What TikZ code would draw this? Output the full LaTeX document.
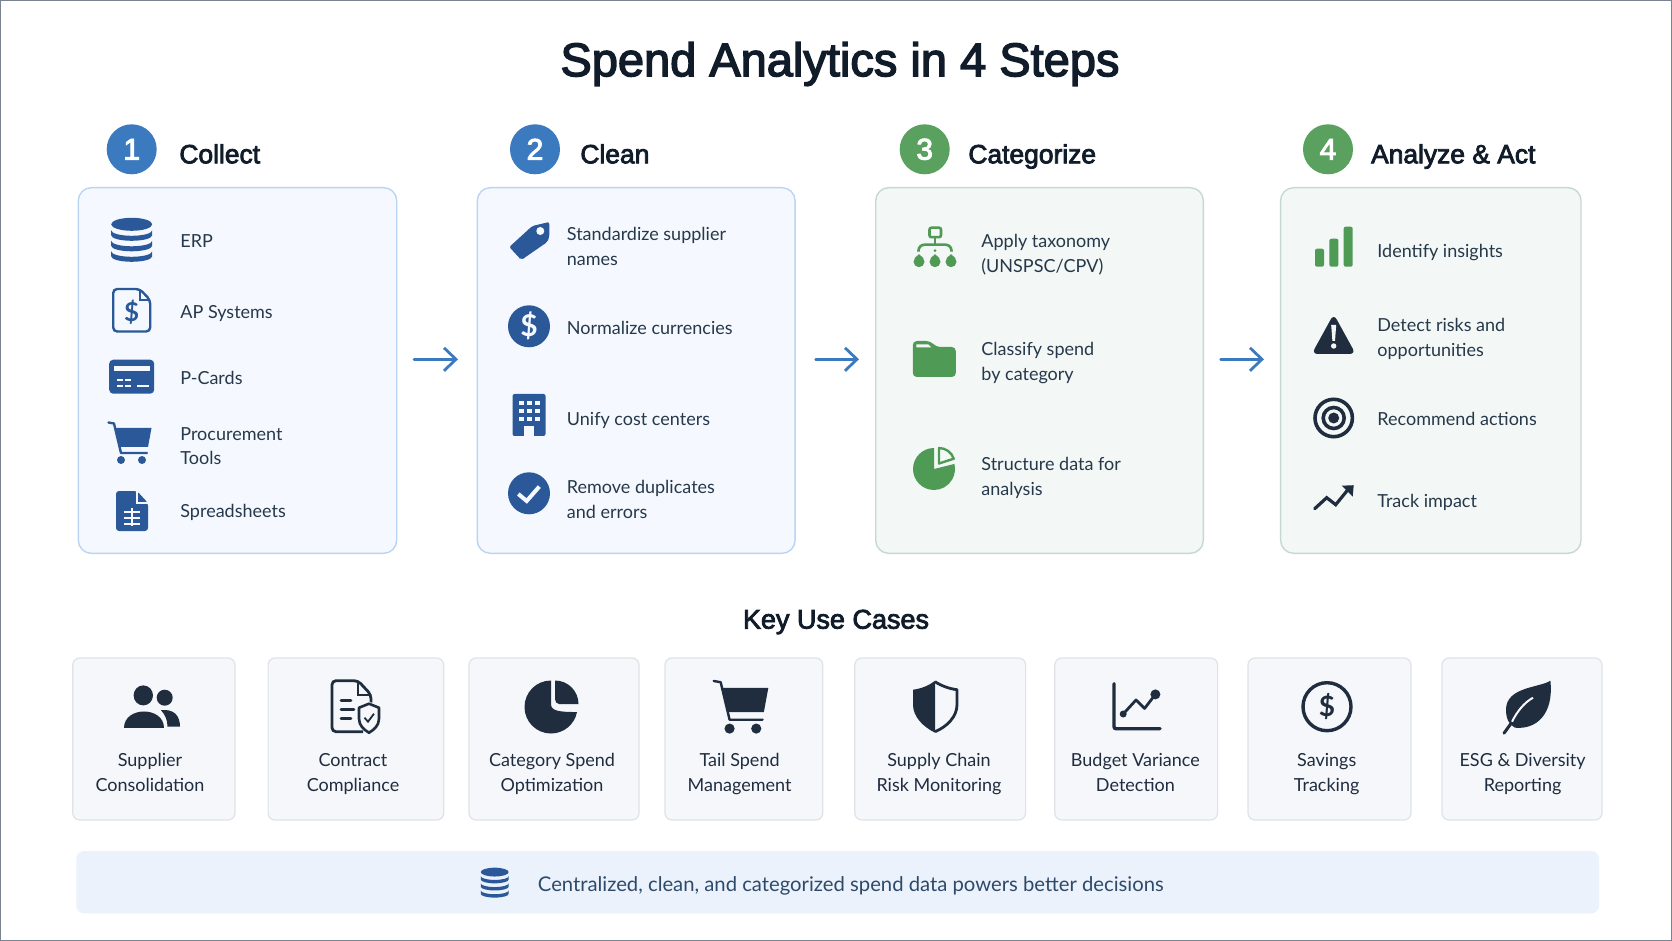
\documentclass[tikz,border=0pt]{standalone}
\usepackage{fontspec}
\usepackage{xcolor}
\usetikzlibrary{arrows.meta}
\setmainfont{Lato}
\newfontfamily\headfont[FakeBold=3]{Liberation Sans}

\definecolor{inkdark}{HTML}{111C2B}
\definecolor{inkbody}{HTML}{26384A}
\definecolor{inkbanner}{HTML}{2E4A6B}
\definecolor{navyicon}{HTML}{2B5898}
\definecolor{slateicon}{HTML}{1F2D3F}
\definecolor{greenicon}{HTML}{4F9A55}
\definecolor{badgeblue}{HTML}{3B7ABF}
\definecolor{badgegreen}{HTML}{5AA05F}
\definecolor{arrowblue}{HTML}{3B7ABF}
\definecolor{bluefill}{HTML}{F5F9FF}
\definecolor{blueedge}{HTML}{BAD4F3}
\definecolor{greenfill}{HTML}{F3F8F6}
\definecolor{greenedge}{HTML}{C6D9CF}
\definecolor{usefill}{HTML}{F5F7FB}
\definecolor{useedge}{HTML}{DFE3E8}
\definecolor{bannerfill}{HTML}{EBF2FC}
\definecolor{frameline}{HTML}{7A8490}

\tikzset{
  badge/.style={circle,minimum size=25pt,inner sep=0pt,text=white,font=\headfont\fontsize{15}{15}\selectfont},
  headtext/.style={anchor=base west,inner sep=0pt,text=inkdark,font=\headfont\fontsize{13.2}{13.2}\selectfont},
  stepcard/.style={draw,line width=.7pt,rounded corners=6.5pt,minimum height=182.8pt},
  bluecard/.style={stepcard,draw=blueedge,fill=bluefill},
  greencard/.style={stepcard,draw=greenedge,fill=greenfill},
  steptext/.style={anchor=west,inner sep=0pt,align=left,text=inkbody,font=\fontsize{9}{12.25}\selectfont},
  stepline/.style={anchor=base west,inner sep=0pt,text=inkbody,font=\fontsize{9}{12.25}\selectfont},
  usecard/.style={draw=useedge,fill=usefill,line width=.6pt,rounded corners=3.5pt,minimum height=81pt},
  usetext/.style={inner sep=0pt,align=center,text=slateicon,font=\fontsize{9}{12.25}\selectfont},
  flowarrow/.style={draw=arrowblue,line width=1.4pt,line cap=round,-{Straight Barb[length=6pt,width=11.5pt]}},
  % icons, drawn round the origin in pixels of the reference
  dbicon/.pic={
    \fill[#1] (0,-15) ellipse [x radius=20.5,y radius=6.5];
    \foreach \y in {-9,1.5,12}
      \fill[#1] (-20.5,\y) arc [start angle=180,end angle=0,x radius=20.5,y radius=5.5] -- ++(0,5) arc [start angle=0,end angle=180,x radius=20.5,y radius=5.5] -- cycle;
  },
  docicon/.pic={
    \draw[#1,line width=1.2pt,rounded corners=2pt] (-18.5,-21) -- (8,-21) -- (18.5,-10) -- (18.5,21.5) -- (-18.5,21.5) -- cycle;
    \draw[#1,line width=1pt] (8,-20) -- (8,-10) -- (18,-10);
    \node[text=#1,inner sep=0pt,font=\bfseries\fontsize{13}{13}\selectfont] (-sign) at (0,2) {\$};
  },
  cardicon/.pic={
    \fill[#1,rounded corners=2pt] (-22.5,-17) rectangle (22.5,17);
    \fill[bluefill] (-18,-11) rectangle (18,-5.5);
    \foreach \a/\b in {-15/-9,-7/-1} {
      \fill[bluefill] (\a,2) rectangle (\b,4);
      \fill[bluefill] (\a,8) rectangle (\b,10);
    }
    \fill[bluefill] (5,8) rectangle (17,10);
  },
  carticon/.pic={
    \fill[#1] (-15,-15) -- (21.5,-15) -- (18,4) -- (-10.5,4) -- cycle;
    \draw[#1,line width=1.2pt,line cap=round,line join=round] (-21.5,-20.5) -- (-16,-19.5) -- (-9,10) -- (17,10);
    \fill[#1] (-9,17) circle (4) (12,17) circle (4);
  },
  sheeticon/.pic={
    \fill[#1,rounded corners=1.5pt] (-16,-20) -- (5,-20) -- (16,-8) -- (16,20) -- (-16,20) -- cycle;
    \draw[bluefill,line width=.7pt] (5,-21) -- (5,-8) -- (17,-8);
    \draw[bluefill,line width=1pt] (-8,1) -- (8,1) (-8,7) -- (8,7) (-8,13) -- (8,13) (0,-3) -- (0,15);
  },
  tagicon/.pic={
    \fill[#1,rounded corners=1pt] (20,-19) -- (3,-15) -- (-20,6) -- (-8,19) -- (18,1) -- (20,-4) -- cycle;
    \fill[bluefill] (11,-10) circle (4);
  },
  coinicon/.pic={
    \fill[#1] (0,0) circle (21);
    \node[text=bluefill,inner sep=0pt,font=\bfseries\fontsize{15}{15}\selectfont] (-sign) at (0,0) {\$};
  },
  buildingicon/.pic={
    \fill[#1,rounded corners=1pt] (-16.5,-21) rectangle (16.5,21);
    \foreach \px in {-8,0,8} \foreach \py in {-12,-4,4}
      \fill[bluefill] (\px-2.5,\py-2.2) rectangle (\px+2.5,\py+2.2);
    \fill[bluefill] (-5,11) rectangle (5,22);
  },
  checkicon/.pic={
    \fill[#1] (0,0) circle (21);
    \draw[bluefill,line width=2pt] (-10.7,.7) -- (-2.3,7.7) -- (10.3,-6.7);
  },
  treeicon/.pic={
    \draw[#1,line width=1.3pt,rounded corners=1pt] (-5.5,-19) rectangle (6,-9.5);
    \draw[#1,line width=1.3pt,rounded corners=3pt] (-16.5,5) -- (-16.5,-2) -- (16.5,-2) -- (16.5,5);
    \draw[#1,line width=1.3pt] (0,-9.5) -- (0,-2);
    \fill[#1] (0,4) circle (1.5);
    \foreach \x in {-16,0,16} {
      \fill[#1] (\x,15) circle (5.5);
      \fill[#1] (\x,7.5) -- (\x+4.5,11.5) -- (\x-4.5,11.5) -- cycle;
    }
  },
  foldericon/.pic={
    \fill[#1,rounded corners=2pt] (-21.5,-18) -- (-4,-18) -- (2,-12) -- (21.5,-12) -- (21.5,18) -- (-21.5,18) -- cycle;
    \fill[greenfill] (-18,-14.5) -- (-6,-14.5) -- (-3,-11.5) -- (-18,-11.5) -- cycle;
  },
  pieicon/.pic={
    \fill[#1] (0,0) -- (0,-21) arc [start angle=-90,end angle=-374,radius=21] -- cycle;
    \draw[#1,line width=1.2pt,line join=round] (5,-5.5) -- (5,-21) arc [start angle=-90,end angle=-18,radius=15.5] -- cycle;
  },
  barsicon/.pic={
    \fill[#1,rounded corners=1pt] (-18.7,2) rectangle (-9.7,20);
    \fill[#1,rounded corners=1pt] (-4.3,-8) rectangle (4.7,20);
    \fill[#1,rounded corners=1pt] (10,-20) rectangle (19,20);
  },
  warnicon/.pic={
    \fill[#1,rounded corners=3pt] (0,-21) -- (22,19) -- (-22,19) -- cycle;
    \fill[greenfill] (-2.5,-10) -- (2.5,-10) -- (1.3,6) -- (-1.3,6) -- cycle;
    \fill[greenfill] (0,11) circle (2.7);
  },
  targeticon/.pic={
    \draw[#1,line width=1.8pt] (0,0) circle (18.7);
    \draw[#1,line width=1.8pt] (0,0) circle (10.5);
    \fill[#1] (0,0) circle (5.5);
  },
  trendicon/.pic={
    \draw[#1,line width=1.6pt,line cap=round,line join=miter] (-19,12) -- (-7,1) -- (2,8) -- (15,-8);
    \fill[#1] (8,-11) -- (20,-11.5) -- (19,0) -- cycle;
  },
  usersicon/.pic={
    \fill[#1] (-8.7,-11.3) ellipse [x radius=9.7,y radius=10];
    \fill[#1] (12.7,-9) ellipse [x radius=8,y radius=8];
    \fill[#1] (-28,21.7) .. controls (-28,-1) and (12,-1) .. (12,21.7) -- cycle;
    \fill[#1] (9,3.5) .. controls (22,2) and (28,9) .. (28,20) -- (15.5,20) .. controls (15.5,13) and (13,8) .. (9,3.5) -- cycle;
  },
  contracticon/.pic={
    \draw[#1,line width=1.4pt,rounded corners=2pt] (7,25) -- (-24,25) -- (-24,-26) -- (2,-26) -- (15,-12) -- (15,-4);
    \draw[#1,line width=1.2pt] (2,-26) -- (2,-12) -- (15,-12);
    \draw[#1,line width=1.4pt,line cap=round] (-15,-6) -- (-5,-6) (-15,2.7) -- (-2,2.7) (-15,11.7) -- (-5,11.7);
    \fill[usefill] (13,-5) -- (24,0) -- (24,12) .. controls (24,20) and (18,24) .. (13,27) .. controls (8,24) and (2,20) .. (2,12) -- (2,0) -- cycle;
    \draw[#1,line width=1.3pt,line join=round] (13,-3) -- (23,1) -- (23,12) .. controls (23,19) and (18,23) .. (13,26) .. controls (8,23) and (3,19) .. (3,12) -- (3,1) -- cycle;
    \draw[#1,line width=.9pt] (8.5,11) -- (12,15) -- (18,7);
  },
  wedgeicon/.pic={
    \fill[#1] (0,-26.5) arc [start angle=-90,end angle=-349,radius=26.5] .. controls (8,5) and (0,4) .. (0,-3) -- cycle;
    \fill[#1] (4,-26.5) arc [start angle=-90,end angle=0,radius=23.5] -- (8,-3) .. controls (5.5,-3) and (4,-5.5) .. (4,-8) -- cycle;
  },
  shieldicon/.pic={
    \fill[#1] (0,-26) .. controls (-6,-21) and (-14,-18) .. (-22,-17) -- (-22,-2) .. controls (-22,10) and (-12,20) .. (0,26) -- cycle;
    \draw[#1,line width=1.4pt,line join=round] (0,-25) .. controls (6,-21) and (14,-18) .. (22,-17) -- (22,-2) .. controls (22,10) and (12,20) .. (0,25);
  },
  charticon/.pic={
    \draw[#1,line width=1.7pt,line cap=round,rounded corners=1pt] (-23,-23) -- (-23,22) -- (23,22);
    \draw[#1,line width=1.4pt,line join=round] (-13.8,7.3) -- (-1,-6.7) -- (7.6,1.7) -- (18.4,-12.3);
    \fill[#1] (-13.8,7.3) circle (3.5) (18.4,-12.3) circle (5);
  },
  ringicon/.pic={
    \draw[#1,line width=1.7pt] (0,0) circle (24);
    \node[text=#1,inner sep=0pt,font=\bfseries\fontsize{14}{14}\selectfont] (-sign) at (0,0) {\$};
  },
  leaficon/.pic={
    \fill[#1] (22.4,-26) .. controls (12,-19) and (-22,-20) .. (-22,3) .. controls (-22,12) and (-19,18) .. (-13,21) .. controls (8,23) and (26,8) .. cycle;
    \draw[#1,line width=1.5pt,line cap=round] (-24,26.5) -- (-15,14);
    \draw[usefill,line width=1pt] (-16,15) .. controls (-11,5) and (-4,-4) .. (5,-9);
  },
}

\begin{document}
\begin{tikzpicture}[x=.5pt,y=-.5pt]
    \useasboundingbox (0,0) rectangle (1672,941);
    \fill[white] (0,0) rectangle (1672,941);
    \draw[frameline,line width=1.2pt] (0,0) rectangle (1672,941);

    \node[inner sep=0pt,text=inkdark,font=\headfont\fontsize{23.5}{23.5}\selectfont] (title) at (840,64) {Spend Analytics in 4 Steps};

    % step headers
    \node[badge,fill=badgeblue] (badge1) at (131.7,149.3) {1};
    \node[badge,fill=badgeblue] (badge2) at (535,149.3) {2};
    \node[badge,fill=badgegreen] (badge3) at (924.7,149.3) {3};
    \node[badge,fill=badgegreen] (badge4) at (1328,149.3) {4};
    \node[headtext] (head1) at (179,163.3) {Collect};
    \node[headtext] (head2) at (580,163.3) {Clean};
    \node[headtext] (head3) at (968,163.3) {Categorize};
    \node[headtext] (head4) at (1370.7,163.3) {Analyze \& Act};

    % step cards
    \node[bluecard,minimum width=159.2pt] (card1) at (237.5,370.5) {};
    \node[bluecard,minimum width=158.9pt] (card2) at (636.2,370.5) {};
    \node[greencard,minimum width=163.8pt] (card3) at (1039.5,370.5) {};
    \node[greencard,minimum width=150.2pt] (card4) at (1430.8,370.5) {};

    % collect
    \pic (icerp) at (131.7,239.3) {dbicon=navyicon};
    \pic (icap) at (131.7,310) {docicon=navyicon};
    \pic (icpcard) at (131.7,376.7) {cardicon=navyicon};
    \pic (iccart) at (130,443) {carticon=navyicon};
    \pic (icsheet) at (132,511) {sheeticon=navyicon};
    \node[stepline] (erp) at (180,247.3) {ERP};
    \node[stepline] (apsys) at (180,318.3) {AP Systems};
    \node[stepline] (pcards) at (180,385) {P-Cards};
    \node[steptext] (tools) at (180,446) {Procurement\\Tools};
    \node[stepline] (sheets) at (180,517.3) {Spreadsheets};

    % clean
    \pic (ictag) at (529.3,241) {tagicon=navyicon};
    \pic (iccoin) at (529,326.3) {coinicon=navyicon};
    \pic (icbuild) at (529,415) {buildingicon=navyicon};
    \pic (iccheck) at (529,493.3) {checkicon=navyicon};
    \node[steptext] (names) at (566.5,246.6) {Standardize supplier\\names};
    \node[stepline] (currency) at (566.5,335) {Normalize currencies};
    \node[stepline] (centers) at (566.5,425) {Unify cost centers};
    \node[steptext] (dupes) at (566.5,499.2) {Remove duplicates\\and errors};

    % categorize
    \pic (ictree) at (935,246.7) {treeicon=greenicon};
    \pic (icfolder) at (934.3,359) {foldericon=greenicon};
    \pic (icpie) at (934,469) {pieicon=greenicon};
    \node[steptext] (taxonomy) at (981,254.7) {Apply taxonomy\\(UNSPSC/CPV)};
    \node[steptext] (classify) at (981,362.9) {Classify spend\\by category};
    \node[steptext] (structure) at (981,477.9) {Structure data for\\analysis};

    % analyze
    \pic (icbars) at (1333.7,246.7) {barsicon=greenicon};
    \pic (icwarn) at (1333.7,335) {warnicon=slateicon};
    \pic (ictarget) at (1333.7,418) {targeticon=slateicon};
    \pic (ictrend) at (1333.7,496.7) {trendicon=slateicon};
    \node[stepline] (insights) at (1377,257.7) {Identify insights};
    \node[steptext] (risks) at (1377,339) {Detect risks and\\opportunities};
    \node[stepline] (actions) at (1377,425) {Recommend actions};
    \node[stepline] (impact) at (1377,507.7) {Track impact};

    % arrows between the cards
    \coordinate (arrow1a) at (414,359.3);
    \coordinate (arrow1b) at (458,359.3);
    \coordinate (arrow2a) at (815.7,359.3);
    \coordinate (arrow2b) at (859,359.3);
    \coordinate (arrow3a) at (1220.7,359.3);
    \coordinate (arrow3b) at (1264,359.3);
    \draw[flowarrow] (arrow1a) -- (arrow1b);
    \draw[flowarrow] (arrow2a) -- (arrow2b);
    \draw[flowarrow] (arrow3a) -- (arrow3b);

    \node[inner sep=0pt,text=inkdark,font=\headfont\fontsize{13.5}{13.5}\selectfont] (usetitle) at (836,622) {Key Use Cases};

    % use cases
    \node[usecard,minimum width=81.1pt] (use1) at (153.9,739) {};
    \node[usecard,minimum width=87.8pt] (use2) at (355.9,739) {};
    \node[usecard,minimum width=85pt] (use3) at (554,739) {};
    \node[usecard,minimum width=78.9pt] (use4) at (743.9,739) {};
    \node[usecard,minimum width=85.4pt] (use5) at (940.2,739) {};
    \node[usecard,minimum width=81.4pt] (use6) at (1136.2,739) {};
    \node[usecard,minimum width=81.5pt] (use7) at (1329.5,739) {};
    \node[usecard,minimum width=80pt] (use8) at (1522,739) {};
    \pic (icusers) at (152,706.7) {usersicon=slateicon};
    \pic (iccontract) at (356,706.7) {contracticon=slateicon};
    \pic (icwedge) at (551,707) {wedgeicon=slateicon};
    \pic[scale=1.27] (ictail) at (741,707) {carticon=slateicon};
    \pic (icshield) at (935,706.7) {shieldicon=slateicon};
    \pic (icchart) at (1137,706.7) {charticon=slateicon};
    \pic (icring) at (1327,706.7) {ringicon=slateicon};
    \pic (icleaf) at (1528,706.7) {leaficon=slateicon};
    \node[usetext] (uselabel1) at (150,772.5) {Supplier\\Consolidation};
    \node[usetext] (uselabel2) at (353,774) {Contract\\Compliance};
    \node[usetext] (uselabel3) at (552,774) {Category Spend\\Optimization};
    \node[usetext] (uselabel4) at (739.6,774) {Tail Spend\\Management};
    \node[usetext] (uselabel5) at (939,774) {Supply Chain\\Risk Monitoring};
    \node[usetext] (uselabel6) at (1135.4,772.5) {Budget Variance\\Detection};
    \node[usetext] (uselabel7) at (1326.7,774) {Savings\\Tracking};
    \node[usetext] (uselabel8) at (1522.6,774) {ESG \& Diversity\\Reporting};

    % banner
    \node[fill=bannerfill,rounded corners=4pt,minimum width=761.4pt,minimum height=31.2pt] (banner) at (837.7,882.2) {};
    \pic[scale=.68] (icbanner) at (494.7,882.3) {dbicon=navyicon};
    \node[anchor=west,inner sep=0pt,text=inkbanner,font=\fontsize{10.13}{12}\selectfont] (bannertext) at (537.5,886) {Centralized, clean, and categorized spend data powers better decisions};
\end{tikzpicture}
\end{document}
